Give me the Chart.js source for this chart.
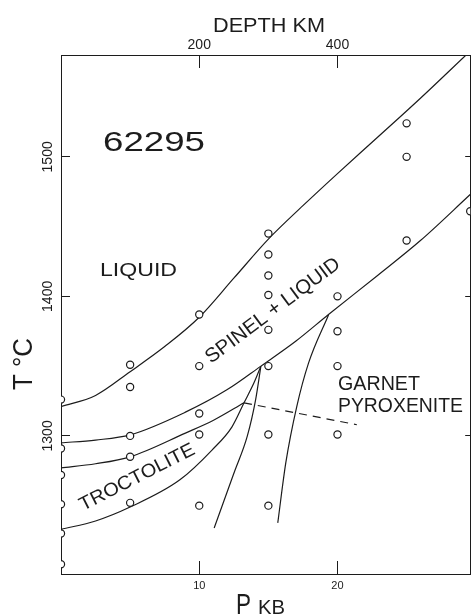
<!DOCTYPE html>
<html>
<head>
<meta charset="utf-8">
<script src="https://cdn.jsdelivr.net/npm/chart.js@4/dist/chart.umd.min.js"></script>
<style>
  html, body { margin: 0; padding: 0; background: #fff; }
  canvas { display: block; }
</style>
</head>
<body>
<canvas id="phase" width="475" height="616"></canvas>
<script>
// Axis ranges and ticks
const P_RANGE = [0, 29.6];          // pressure, kbar
const T_RANGE = [1201, 1573];       // temperature, deg C
const P_TICKS = [10, 20];
const T_TICKS = [1300, 1400, 1500];
const KM_PER_KB = 20;               // depth scale on the top axis

// Experimental runs (open circles)
const RUN_P = [0, 0, 0, 0, 0, 0,
               5, 5, 5, 5, 5,
               10, 10, 10, 10, 10,
               15, 15, 15, 15, 15, 15, 15, 15,
               20, 20, 20, 20,
               25, 25, 25,
               29.6];
const RUN_T = [1326, 1291, 1272, 1251, 1230, 1208,
               1351, 1335, 1300, 1285, 1252,
               1387, 1350, 1316, 1301, 1250,
               1445, 1430, 1415, 1401, 1376, 1350, 1301, 1250,
               1400, 1375, 1350, 1301,
               1524, 1500, 1440,
               1461];

// Liquidus
const LIQ_P = [0, 2.5, 5, 7.5, 10, 12.5, 15, 17.5, 20, 22.9, 26, 29.3];
const LIQ_T = [1321, 1329, 1346, 1364, 1385, 1413, 1441, 1465, 1488, 1514, 1542, 1573];

// Spinel + liquid lower boundary
const SPL_P = [0, 2.5, 5, 9, 12, 14.46, 17, 19.35, 22.9, 26, 29.6];
const SPL_T = [1295, 1297, 1300.7, 1317, 1333, 1350, 1368, 1387, 1415, 1440, 1473];

// Upper troctolite boundary
const TR1_P = [0, 2.5, 5, 9, 11, 13.24];
const TR1_T = [1277, 1280, 1285, 1302, 1311, 1323.7];

// Lower troctolite boundary, running up to the spinel curve
const TR2_P = [0, 2.5, 5, 8.6, 10.94, 12.37, 13.24, 13.96, 14.46];
const TR2_T = [1233, 1239, 1249, 1268.5, 1290, 1306.5, 1323.7, 1338, 1350];

// Steep boundaries rising from the low-temperature side
const GA1_P = [11.08, 12.52, 13.48, 14.08, 14.46];
const GA1_T = [1234, 1273.6, 1300, 1326, 1350];
const GA2_P = [15.68, 16.26, 17.05, 17.91, 19.35];
const GA2_T = [1237.6, 1280.6, 1320.8, 1352.3, 1386.7];

// Inferred (dashed) boundary
const DASH_P = [13.24, 21.4];
const DASH_T = [1323.7, 1308];

const INK = '#1c1c1c';
const FAMILY = '"Liberation Sans", Arial, sans-serif';

const toPoints = (ps, ts) => ps.map((p, i) => ({ x: p, y: ts[i] }));

function boundary(ps, ts, extra) {
  return Object.assign({
    data: toPoints(ps, ts),
    showLine: true,
    pointRadius: 0,
    pointHoverRadius: 0,
    borderColor: INK,
    borderWidth: 1.2,
    cubicInterpolationMode: 'monotone',
    fill: false,
    clip: 0
  }, extra || {});
}

function fixedTicks(list) {
  return scale => { scale.ticks = list.map(v => ({ value: v })); };
}

// Text drawn with a set width, so that the wide lettering keeps its span
function stretchText(ctx, text, x, y, size, width, angleDeg) {
  ctx.save();
  ctx.translate(x, y);
  ctx.rotate((angleDeg || 0) * Math.PI / 180);
  ctx.font = size + 'px ' + FAMILY;
  ctx.textAlign = 'left';
  ctx.textBaseline = 'alphabetic';
  const w = ctx.measureText(text).width;
  if (width) ctx.scale(width / w, 1);
  ctx.fillStyle = INK;
  ctx.fillText(text, 0, 0);
  ctx.restore();
}

const labelPlugin = {
  id: 'phaseLabels',
  afterDraw(chart) {
    const ctx = chart.ctx;
    // axis titles
    stretchText(ctx, 'DEPTH KM', 213, 32, 20, 112, 0);
    stretchText(ctx, 'P', 236, 614, 29, 15, 0);
    stretchText(ctx, 'KB', 258, 614, 21, 27, 0);
    stretchText(ctx, 'T \u00B0C', 32, 390, 28, 52, -90);
    // sample number and field names
    stretchText(ctx, '62295', 103, 151, 28, 102, 0);
    stretchText(ctx, 'LIQUID', 100, 276, 18, 77, 0);
    stretchText(ctx, 'SPINEL + LIQUID', 211, 364, 20, 163, -36.8);
    stretchText(ctx, 'TROCTOLITE', 83, 511, 19, 127, -27);
    stretchText(ctx, 'GARNET', 338, 390, 20, 82, 0);
    stretchText(ctx, 'PYROXENITE', 338, 412, 20, 125, 0);
  }
};

new Chart(document.getElementById('phase'), {
  type: 'scatter',
  data: {
    datasets: [
      {
        data: toPoints(RUN_P, RUN_T),
        pointStyle: 'circle',
        pointRadius: 3.6,
        pointHoverRadius: 3.6,
        pointBorderWidth: 1.2,
        pointBorderColor: INK,
        pointBackgroundColor: '#fff',
        clip: 0,
        order: 0
      },
      boundary(LIQ_P, LIQ_T, { order: 1 }),
      boundary(SPL_P, SPL_T, { order: 1 }),
      boundary(TR1_P, TR1_T, { order: 1 }),
      boundary(TR2_P, TR2_T, { order: 1 }),
      boundary(GA1_P, GA1_T, { order: 1 }),
      boundary(GA2_P, GA2_T, { order: 1 }),
      boundary(DASH_P, DASH_T, { order: 1, borderDash: [8, 6], cubicInterpolationMode: 'default', tension: 0 })
    ]
  },
  options: {
    responsive: false,
    animation: false,
    events: [],
    layout: { padding: 0 },
    plugins: { legend: { display: false }, tooltip: { enabled: false }, title: { display: false } },
    scales: {
      x: {
        type: 'linear', axis: 'x', position: 'bottom',
        min: P_RANGE[0], max: P_RANGE[1],
        afterBuildTicks: fixedTicks(P_TICKS),
        afterFit: s => { s.height = 42; },
        grid: { display: true, drawOnChartArea: false, drawTicks: true, tickLength: -13, color: INK, lineWidth: 1 },
        border: { display: true, color: INK, width: 1 },
        ticks: { font: { family: FAMILY, size: 11 }, color: INK, padding: 17.9, minRotation: 0, maxRotation: 0,
                 callback: v => String(v) }
      },
      xTop: {
        type: 'linear', axis: 'x', position: 'top',
        min: P_RANGE[0], max: P_RANGE[1],
        afterBuildTicks: fixedTicks(P_TICKS),
        afterFit: s => { s.height = 55; },
        grid: { display: true, drawOnChartArea: false, drawTicks: true, tickLength: -13, color: INK, lineWidth: 1 },
        border: { display: true, color: INK, width: 1 },
        ticks: {
          font: { family: FAMILY, size: 14 }, color: INK, padding: 14.6, minRotation: 0, maxRotation: 0,
          callback: v => String(v * KM_PER_KB)
        }
      },
      y: {
        type: 'linear', axis: 'y', position: 'left',
        min: T_RANGE[0], max: T_RANGE[1],
        afterBuildTicks: fixedTicks(T_TICKS),
        afterFit: s => { s.width = 61; },
        grid: { display: true, drawOnChartArea: false, drawTicks: true, tickLength: -9, color: INK, lineWidth: 1 },
        border: { display: true, color: INK, width: 1 },
        ticks: {
          font: { family: FAMILY, size: 14 }, color: INK,
          minRotation: 90, maxRotation: 90, crossAlign: 'center', padding: 6.4,
          callback: v => String(v)
        }
      },
      yRight: {
        type: 'linear', axis: 'y', position: 'right',
        min: T_RANGE[0], max: T_RANGE[1],
        afterBuildTicks: fixedTicks(T_TICKS),
        afterFit: s => { s.width = 2; },
        grid: { display: true, drawOnChartArea: false, drawTicks: true, tickLength: -5, color: INK, lineWidth: 1 },
        border: { display: true, color: INK, width: 1 },
        ticks: { display: false }
      }
    }
  },
  plugins: [labelPlugin]
});
</script>
</body>
</html>
